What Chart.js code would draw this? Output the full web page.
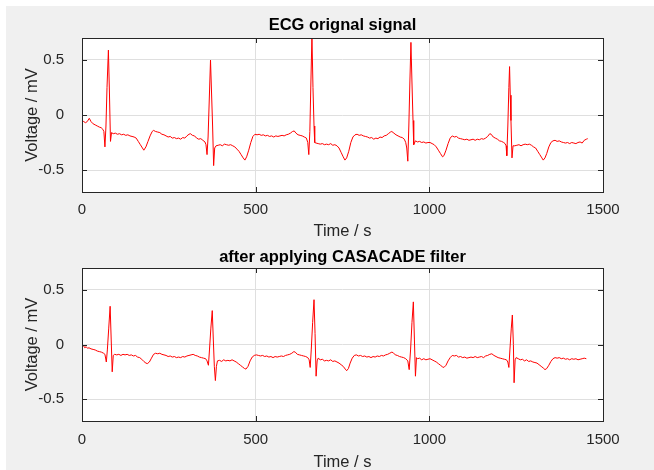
<!DOCTYPE html>
<html>
<head>
<meta charset="utf-8">
<script src="https://cdn.jsdelivr.net/npm/chart.js@4"></script>
<style>
  html, body { margin: 0; padding: 0; background: #ffffff; }
  #bg { position: absolute; left: 6px; top: 6px; width: 648px; height: 464px; background: #f0f0f0; }
  canvas { position: absolute; }
</style>
</head>
<body>
<div id="bg"></div>
<canvas id="c1" width="648" height="234" style="left:6px;top:6px;width:648px;height:234px"></canvas>
<canvas id="c2" width="648" height="230" style="left:6px;top:240px;width:648px;height:230px"></canvas>
<script>
// ---------- data ----------
const titles = ["ECG orignal signal", "after applying CASACADE filter"];
const xLabel = "Time / s";
const yLabel = "Voltage / mV";
const xTicks = [0, 500, 1000, 1500];
const yTicks = [-0.5, 0, 0.5];

const origT = [0,5,10,15,21,26,32,38,44,50,55,60,63,66,69,72,76,79,82,85,90,96,102,108,114,120,126,132,138,144,150,156,162,168,174,178,184,190,196,202,206,212,218,224,230,236,242,248,254,260,266,272,278,284,290,296,302,308,312,318,324,330,336,342,348,354,357,360,363,367,370,373,376,379,382,386,392,398,404,410,416,422,428,434,440,446,452,458,464,469,474,480,486,492,498,504,510,516,522,528,534,540,546,552,558,564,570,576,582,588,594,600,606,611,616,622,628,634,640,646,650,653,656,659,662,665,668,670,674,680,686,692,698,704,710,716,722,728,734,740,746,752,757,762,768,774,780,786,792,798,804,810,816,822,828,834,840,846,852,858,864,870,876,882,888,892,898,904,910,916,922,928,932,935,938,941,944,947,950,953,955,960,966,972,978,984,990,996,1002,1008,1014,1020,1026,1032,1038,1042,1048,1054,1060,1066,1072,1078,1084,1090,1096,1102,1108,1114,1120,1126,1132,1138,1144,1150,1156,1162,1168,1174,1178,1184,1190,1196,1202,1208,1214,1218,1221,1223,1226,1229,1231,1233,1235,1238,1241,1246,1252,1258,1264,1270,1276,1282,1288,1294,1300,1306,1312,1318,1324,1328,1333,1338,1344,1350,1356,1362,1368,1374,1380,1386,1392,1398,1404,1410,1416,1422,1428,1434,1440,1446,1452,1456];
const origV = [-0.05,-0.06,-0.07,-0.06,-0.03,-0.06,-0.08,-0.09,-0.10,-0.11,-0.115,-0.13,-0.15,-0.29,-0.10,0.25,0.59,0.20,-0.24,-0.16,-0.17,-0.165,-0.175,-0.17,-0.18,-0.175,-0.185,-0.18,-0.19,-0.195,-0.20,-0.21,-0.24,-0.27,-0.30,-0.32,-0.29,-0.24,-0.19,-0.15,-0.14,-0.15,-0.155,-0.16,-0.175,-0.18,-0.19,-0.20,-0.195,-0.21,-0.205,-0.215,-0.21,-0.22,-0.205,-0.21,-0.19,-0.175,-0.17,-0.185,-0.19,-0.21,-0.22,-0.215,-0.23,-0.245,-0.27,-0.36,-0.20,0.20,0.50,0.20,-0.10,-0.46,-0.30,-0.28,-0.275,-0.27,-0.28,-0.265,-0.27,-0.275,-0.27,-0.28,-0.29,-0.31,-0.33,-0.36,-0.39,-0.41,-0.38,-0.32,-0.25,-0.195,-0.175,-0.18,-0.175,-0.185,-0.18,-0.19,-0.185,-0.195,-0.19,-0.20,-0.19,-0.195,-0.19,-0.185,-0.19,-0.18,-0.175,-0.165,-0.15,-0.145,-0.165,-0.18,-0.185,-0.19,-0.20,-0.21,-0.25,-0.36,-0.15,0.30,0.72,0.25,-0.10,-0.25,-0.255,-0.26,-0.265,-0.26,-0.27,-0.265,-0.27,-0.26,-0.275,-0.27,-0.28,-0.30,-0.34,-0.38,-0.41,-0.39,-0.33,-0.25,-0.20,-0.18,-0.175,-0.185,-0.18,-0.19,-0.195,-0.20,-0.21,-0.205,-0.22,-0.21,-0.215,-0.20,-0.205,-0.19,-0.185,-0.17,-0.155,-0.15,-0.165,-0.18,-0.19,-0.20,-0.205,-0.22,-0.25,-0.30,-0.42,-0.10,0.30,0.66,0.30,-0.05,-0.27,-0.235,-0.245,-0.24,-0.25,-0.245,-0.255,-0.25,-0.25,-0.26,-0.27,-0.29,-0.32,-0.35,-0.38,-0.37,-0.32,-0.26,-0.21,-0.19,-0.20,-0.195,-0.21,-0.215,-0.22,-0.225,-0.22,-0.23,-0.225,-0.22,-0.23,-0.22,-0.225,-0.215,-0.22,-0.21,-0.195,-0.17,-0.175,-0.20,-0.21,-0.22,-0.235,-0.24,-0.25,-0.26,-0.28,-0.37,-0.10,0.25,0.44,0.18,-0.05,-0.39,-0.28,-0.28,-0.275,-0.27,-0.28,-0.27,-0.265,-0.27,-0.265,-0.275,-0.29,-0.30,-0.33,-0.36,-0.39,-0.41,-0.39,-0.35,-0.29,-0.25,-0.235,-0.23,-0.24,-0.235,-0.245,-0.25,-0.255,-0.25,-0.26,-0.25,-0.255,-0.26,-0.25,-0.245,-0.255,-0.23,-0.22,-0.215];

const filtT = [0,4,8,12,16,20,26,32,38,44,50,56,62,66,70,73,77,81,84,87,90,94,100,106,112,118,124,130,136,142,148,154,160,166,172,178,184,188,194,200,206,212,218,224,230,236,242,248,254,260,266,272,278,284,290,296,302,308,314,320,326,332,338,344,350,356,360,364,367,371,375,378,381,384,387,390,396,402,408,414,420,426,432,438,444,450,456,462,468,472,478,484,490,496,502,508,514,520,526,532,538,544,550,556,562,568,574,580,586,592,598,604,610,614,620,626,632,638,644,650,654,657,660,664,668,671,674,677,680,686,692,698,704,710,716,722,728,734,740,746,752,758,762,767,772,778,784,790,796,802,808,814,820,826,832,838,844,850,856,862,868,874,880,886,892,896,902,908,914,920,926,932,938,942,946,950,954,957,960,963,966,972,978,984,990,996,1002,1008,1014,1020,1026,1032,1038,1042,1048,1054,1060,1066,1072,1078,1084,1090,1096,1102,1108,1114,1120,1126,1132,1138,1144,1150,1156,1162,1168,1174,1180,1186,1192,1198,1204,1210,1216,1222,1226,1229,1232,1236,1239,1242,1244,1247,1250,1256,1262,1268,1274,1280,1286,1292,1298,1304,1310,1316,1322,1328,1333,1338,1344,1350,1356,1362,1368,1374,1380,1386,1392,1398,1404,1410,1416,1422,1428,1434,1440,1446,1452];
const filtV = [0.0,-0.01,-0.03,-0.02,-0.035,-0.03,-0.04,-0.045,-0.05,-0.06,-0.065,-0.07,-0.08,-0.09,-0.16,-0.05,0.15,0.35,0.05,-0.25,-0.10,-0.09,-0.095,-0.09,-0.10,-0.09,-0.095,-0.09,-0.10,-0.095,-0.105,-0.10,-0.115,-0.12,-0.135,-0.155,-0.17,-0.175,-0.16,-0.125,-0.09,-0.08,-0.085,-0.08,-0.09,-0.095,-0.10,-0.11,-0.105,-0.115,-0.11,-0.12,-0.115,-0.12,-0.11,-0.115,-0.105,-0.10,-0.095,-0.09,-0.10,-0.105,-0.115,-0.12,-0.125,-0.13,-0.15,-0.19,-0.05,0.15,0.31,0.05,-0.20,-0.33,-0.20,-0.15,-0.145,-0.155,-0.14,-0.15,-0.145,-0.15,-0.14,-0.15,-0.16,-0.175,-0.19,-0.205,-0.22,-0.225,-0.20,-0.15,-0.115,-0.10,-0.095,-0.10,-0.105,-0.10,-0.11,-0.105,-0.115,-0.11,-0.12,-0.11,-0.115,-0.11,-0.105,-0.11,-0.10,-0.095,-0.09,-0.08,-0.065,-0.07,-0.09,-0.095,-0.10,-0.105,-0.11,-0.12,-0.14,-0.21,-0.05,0.20,0.41,0.10,-0.29,-0.15,-0.125,-0.14,-0.135,-0.15,-0.145,-0.15,-0.14,-0.155,-0.15,-0.16,-0.17,-0.185,-0.20,-0.225,-0.24,-0.22,-0.17,-0.125,-0.10,-0.095,-0.105,-0.10,-0.11,-0.105,-0.115,-0.11,-0.12,-0.11,-0.115,-0.105,-0.11,-0.10,-0.105,-0.095,-0.09,-0.08,-0.07,-0.075,-0.095,-0.10,-0.11,-0.115,-0.12,-0.13,-0.15,-0.23,-0.05,0.20,0.39,0.05,-0.29,-0.12,-0.13,-0.125,-0.14,-0.13,-0.14,-0.135,-0.13,-0.14,-0.15,-0.16,-0.175,-0.19,-0.205,-0.21,-0.19,-0.15,-0.12,-0.10,-0.105,-0.10,-0.115,-0.11,-0.12,-0.115,-0.125,-0.12,-0.115,-0.12,-0.11,-0.12,-0.115,-0.11,-0.12,-0.105,-0.10,-0.09,-0.085,-0.10,-0.11,-0.12,-0.125,-0.13,-0.135,-0.14,-0.16,-0.21,-0.05,0.15,0.27,0.0,-0.35,-0.14,-0.12,-0.13,-0.14,-0.135,-0.15,-0.14,-0.155,-0.15,-0.16,-0.165,-0.17,-0.185,-0.20,-0.215,-0.23,-0.22,-0.19,-0.155,-0.13,-0.12,-0.125,-0.12,-0.13,-0.125,-0.135,-0.13,-0.14,-0.13,-0.135,-0.13,-0.14,-0.135,-0.13,-0.125,-0.13];

// ---------- rendering ----------
const FONT = '"Liberation Sans", Arial, Helvetica, sans-serif';
const TXT = '#262626';

const boxPlugin = {
  id: 'matlabBox',
  beforeDraw(chart) {
    const {ctx, chartArea: a} = chart;
    ctx.save();
    ctx.fillStyle = '#ffffff';
    ctx.fillRect(a.left, a.top, a.right - a.left, a.bottom - a.top);
    ctx.restore();
  },
  afterDraw(chart) {
    const {ctx, chartArea: a, scales} = chart;
    ctx.save();
    ctx.strokeStyle = TXT;
    ctx.lineWidth = 1;
    ctx.beginPath();
    const L = 5;
    scales.x.ticks.forEach(t => {
      const px = Math.round(scales.x.getPixelForValue(t.value)) + 0.5;
      ctx.moveTo(px, a.bottom); ctx.lineTo(px, a.bottom - L);
      ctx.moveTo(px, a.top); ctx.lineTo(px, a.top + L);
    });
    scales.y.ticks.forEach(t => {
      const py = Math.round(scales.y.getPixelForValue(t.value)) + 0.5;
      ctx.moveTo(a.left, py); ctx.lineTo(a.left + L, py);
      ctx.moveTo(a.right, py); ctx.lineTo(a.right - L, py);
    });
    ctx.stroke();
    ctx.strokeRect(a.left + 0.5, a.top + 0.5, a.right - a.left, a.bottom - a.top);
    ctx.restore();
  }
};

function makeChart(id, title, T, V, o) {
  const pts = T.map((t, i) => ({x: t, y: V[i]}));
  return new Chart(document.getElementById(id), {
    type: 'line',
    data: { datasets: [{ data: pts, borderColor: '#ff0000', borderWidth: 1, pointRadius: 0, tension: 0, fill: false }] },
    options: {
      responsive: false, animation: false, devicePixelRatio: 1,
      layout: { padding: { left: 0, right: 51, top: 0, bottom: 0 } },
      plugins: {
        legend: { display: false }, tooltip: { enabled: false },
        title: { display: true, text: title, fullSize: false, color: '#000000',
                 font: { family: FONT, size: 16.5, weight: 'bold', lineHeight: 1.2 },
                 padding: { top: o.tTop, bottom: o.tBot } }
      },
      scales: {
        x: {
          type: 'linear', min: 0, max: 1500,
          afterBuildTicks: s => { s.ticks = xTicks.map(v => ({value: v})); },
          afterFit: s => { s.height = o.xH; },
          grid: { color: '#dfdfdf', drawTicks: false },
          border: { display: false },
          ticks: { color: TXT, padding: o.xPad, maxRotation: 0, font: { family: FONT, size: 15 }, callback: v => String(v) },
          title: { display: true, text: xLabel, color: TXT, font: { family: FONT, size: 16.5, lineHeight: 1 }, padding: { top: 0, bottom: o.xtB } }
        },
        y: {
          type: 'linear', min: -0.7, max: 0.7,
          afterBuildTicks: s => { s.ticks = yTicks.map(v => ({value: v})); },
          afterFit: s => { s.width = 76; },
          grid: { color: '#dfdfdf', drawTicks: false },
          border: { display: false },
          ticks: { color: TXT, padding: 18, font: { family: FONT, size: 15 }, callback: v => String(v) },
          title: { display: true, text: yLabel, color: TXT, font: { family: FONT, size: 16.5, lineHeight: 1.2 }, padding: { top: 17, bottom: 0 } }
        }
      }
    },
    plugins: [boxPlugin]
  });
}

makeChart('c1', titles[0], origT, origV, { tTop: 9.9, tBot: 2.3, xH: 48, xPad: 9, xtB: 0 });
makeChart('c2', titles[1], filtT, filtV, { tTop: 7.6, tBot: 0.6, xH: 49, xPad: 10, xtB: -0.5 });
</script>
</body>
</html>
